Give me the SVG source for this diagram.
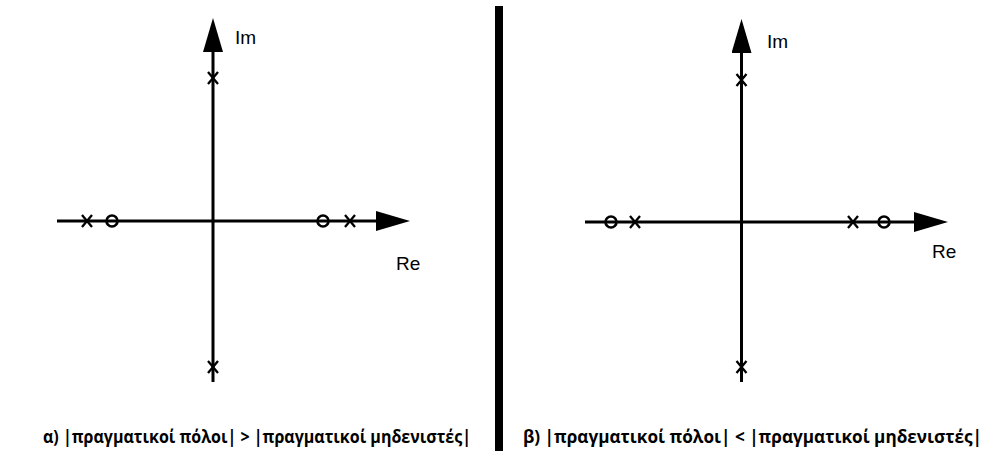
<svg xmlns="http://www.w3.org/2000/svg" width="984" height="451" viewBox="0 0 984 451">
<style>
.axis{stroke:#000;stroke-width:3;fill:none}
.pole{stroke:#000;stroke-width:2.3;fill:none}
.zero{stroke:#000;stroke-width:2.6;fill:none}
.lbl{font-family:"Liberation Sans",Arial,sans-serif;font-size:19px;fill:#000}
.cap{font-family:"Open Sans","DejaVu Sans",sans-serif;font-weight:bold;font-size:17px;fill:#000}
</style>
<defs>
<marker id="ah" viewBox="0 0 34 20" refX="0" refY="10" markerWidth="34" markerHeight="20" markerUnits="userSpaceOnUse" orient="auto">
<path d="M0,0 L34,10 L0,20 Z" fill="#000"/>
</marker>
<path id="xm" d="M-5,-6 L5,6 M5,-6 L-5,6" class="pole"/>
</defs>
<rect width="984" height="451" fill="#fff"/>
<g id="connectors">
<line class="axis" x1="57" y1="221" x2="376" y2="221" marker-end="url(#ah)"/>
<line class="axis" x1="213" y1="382" x2="213" y2="52" marker-end="url(#ah)"/>
<line class="axis" x1="585" y1="222" x2="914" y2="222" marker-end="url(#ah)"/>
<line class="axis" x1="741.5" y1="382" x2="741.5" y2="53" marker-end="url(#ah)"/>
<line id="divider" x1="499" y1="6" x2="499" y2="451" stroke="#000" stroke-width="8"/>
</g>
<g id="left-labels">
<text class="lbl" x="235" y="44">Im</text>
<text class="lbl" x="396" y="270">Re</text>
</g>
<g id="left-pole-top"><use href="#xm" x="213" y="78"/></g>
<g id="left-pole-bottom"><use href="#xm" x="213" y="367"/></g>
<g id="left-pole-neg"><use href="#xm" x="87" y="221"/></g>
<g id="left-zero-neg"><circle class="zero" cx="112" cy="221" r="5.5"/></g>
<g id="left-zero-pos"><circle class="zero" cx="323" cy="221" r="5.5"/></g>
<g id="left-pole-pos"><use href="#xm" x="350" y="221"/></g>
<g id="right-labels">
<text class="lbl" x="767" y="48">Im</text>
<text class="lbl" x="932" y="258">Re</text>
</g>
<g id="right-pole-top"><use href="#xm" x="741.5" y="80"/></g>
<g id="right-pole-bottom"><use href="#xm" x="741.5" y="367"/></g>
<g id="right-zero-neg"><circle class="zero" cx="611" cy="222" r="5.5"/></g>
<g id="right-pole-neg"><use href="#xm" x="635" y="222"/></g>
<g id="right-pole-pos"><use href="#xm" x="853" y="222"/></g>
<g id="right-zero-pos"><circle class="zero" cx="884" cy="222" r="5.5"/></g>
<g id="captions">
<text class="cap" x="43" y="443" textLength="428" lengthAdjust="spacingAndGlyphs">α) |πραγματικοί πόλοι| &gt; |πραγματικοί μηδενιστές|</text>
<text class="cap" x="523" y="443" textLength="459" lengthAdjust="spacingAndGlyphs">β) |πραγματικοί πόλοι| &lt; |πραγματικοί μηδενιστές|</text>
</g>
</svg>
